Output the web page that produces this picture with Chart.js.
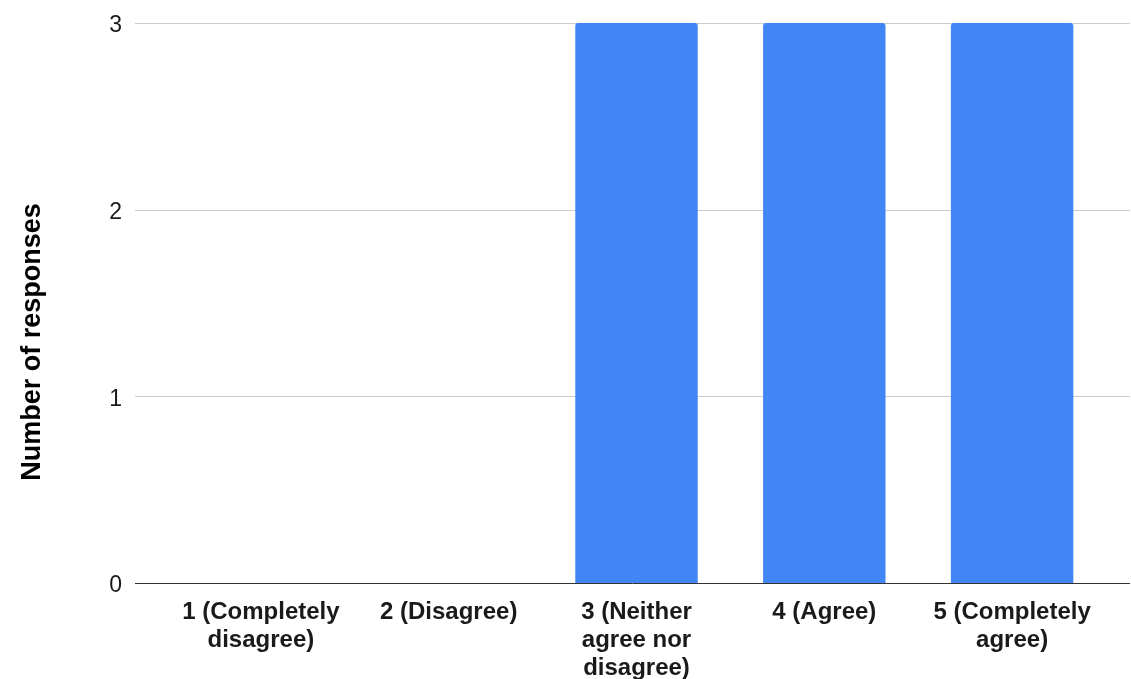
<!DOCTYPE html>
<html>
<head>
<meta charset="utf-8">
<script src="https://cdn.jsdelivr.net/npm/chart.js@4/dist/chart.umd.min.js"></script>
<style>
  html, body { margin: 0; padding: 0; background: #ffffff; }
  #c { display: block; }
</style>
</head>
<body>
<canvas id="c" width="1131" height="679"></canvas>
<script>
// Survey answer categories (each entry holds the wrapped lines of its label)
const categories = [
  ['1 (Completely', 'disagree)'],
  ['2 (Disagree)'],
  ['3 (Neither', 'agree nor', 'disagree)'],
  ['4 (Agree)'],
  ['5 (Completely', 'agree)']
];
// Number of responses for each category
const responses = [0, 0, 3, 3, 3];
// Values shown on the vertical axis
const yTicks = [0, 1, 2, 3];
const yTitle = 'Number of responses';

const FONT = '"Liberation Sans", Arial, Helvetica, sans-serif';

// Horizontal gridlines that run a little past both sides of the plot area,
// a darker baseline at zero, and the rotated axis title.
const gridAndTitle = {
  id: 'gridAndTitle',
  beforeDatasetsDraw(chart) {
    const { ctx, chartArea, scales } = chart;
    const y = scales.y;
    ctx.save();
    ctx.strokeStyle = '#cccccc';
    ctx.lineWidth = 1;
    yTicks.forEach(v => {
      if (v === 0) return;
      const py = Math.round(y.getPixelForValue(v)) + 0.5;
      ctx.beginPath();
      ctx.moveTo(chartArea.left - 32, py);
      ctx.lineTo(chartArea.right + 24, py);
      ctx.stroke();
    });
    ctx.restore();
  },
  afterDatasetsDraw(chart) {
    const { ctx, chartArea, scales } = chart;
    const y = scales.y;
    ctx.save();
    ctx.strokeStyle = '#333333';
    ctx.lineWidth = 1;
    const py = Math.round(y.getPixelForValue(0)) + 0.5;
    ctx.beginPath();
    ctx.moveTo(chartArea.left - 32, py);
    ctx.lineTo(chartArea.right + 24, py);
    ctx.stroke();

    ctx.translate(40, 342);
    ctx.rotate(-Math.PI / 2);
    ctx.fillStyle = '#000000';
    ctx.font = 'bold 27px ' + FONT;
    ctx.textAlign = 'center';
    ctx.textBaseline = 'alphabetic';
    ctx.fillText(yTitle, 0, 0);
    ctx.restore();
  }
};

new Chart(document.getElementById('c'), {
  type: 'bar',
  data: {
    labels: categories,
    datasets: [{
      data: responses,
      backgroundColor: '#4285F4',
      borderRadius: 3,
      barPercentage: 0.652,
      categoryPercentage: 1
    }]
  },
  options: {
    responsive: false,
    animation: false,
    devicePixelRatio: 1,
    layout: { padding: { top: 23, right: 25, bottom: 0, left: 0 } },
    plugins: {
      legend: { display: false },
      tooltip: { enabled: false }
    },
    scales: {
      x: {
        grid: { display: false, drawTicks: false },
        border: { display: false },
        ticks: {
          color: '#1a1a1a',
          font: { family: FONT, size: 24, weight: 'bold', lineHeight: 1.15 },
          padding: 16,
          maxRotation: 0,
          autoSkip: false
        },
        afterFit(scale) {
          scale.height = 96;
          scale.paddingLeft = 0;
          scale.paddingRight = 0;
        }
      },
      y: {
        min: 0,
        max: 3,
        grid: { display: false, drawTicks: false },
        border: { display: false },
        afterBuildTicks(scale) { scale.ticks = yTicks.map(v => ({ value: v })); },
        ticks: {
          color: '#1a1a1a',
          font: { family: FONT, size: 23 },
          padding: 45,
          labelOffset: 3
        },
        afterFit(scale) {
          scale.width = 167;
          scale.paddingTop = 0;
          scale.paddingBottom = 0;
        }
      }
    }
  },
  plugins: [gridAndTitle]
});
</script>
</body>
</html>
